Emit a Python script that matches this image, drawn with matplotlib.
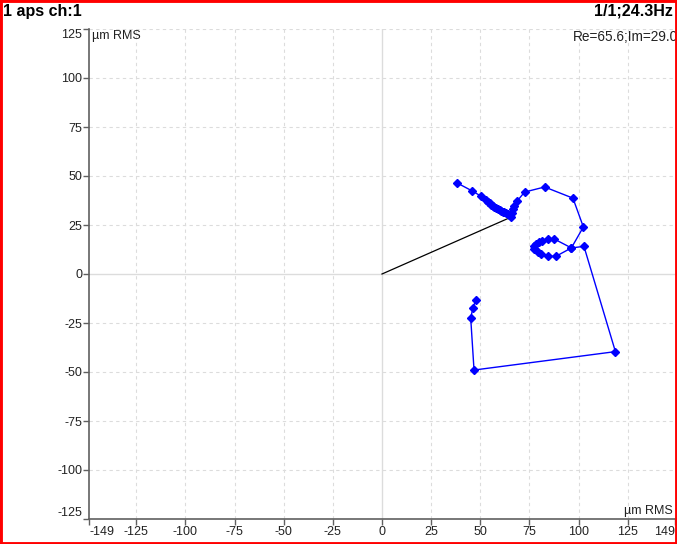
import matplotlib
matplotlib.use("Agg")
import matplotlib.pyplot as plt
from matplotlib.patches import Rectangle

plt.rcParams['font.family'] = ['Liberation Sans', 'DejaVu Sans']

# --- DATA (um RMS, real / imaginary) ---
re_vals = [37.9, 46.0, 50.2, 53.0, 54.0, 54.7, 55.5, 56.4, 57.2, 58.1, 59.0, 59.8,
           60.6, 61.4, 62.2, 63.1, 64.0, 64.8, 65.6, 66.0, 66.5, 67.3, 68.7, 72.5,
           82.7, 97.1, 102.4, 96.3, 87.5, 84.2, 81.6, 80.0, 78.3, 77.1, 77.4, 79.1,
           80.8, 84.2, 88.4, 96.3, 102.7, 118.7, 46.8, 45.1, 46.3, 47.6]
im_vals = [46.6, 42.3, 39.8, 37.8, 36.8, 36.1, 35.3, 34.7, 34.0, 33.5, 33.0, 32.5,
           32.1, 31.8, 31.5, 31.3, 30.6, 29.9, 29.0, 31.0, 33.0, 34.7, 37.2, 41.8,
           44.4, 38.7, 24.0, 13.3, 17.9, 17.9, 17.0, 16.2, 15.3, 14.1, 12.8, 11.1,
           10.1, 9.0, 9.0, 13.3, 14.1, -39.6, -49.0, -22.3, -17.2, -13.4]
cur_re, cur_im = 65.6, 29.0

x_ticks = [-149, -125, -100, -75, -50, -25, 0, 25, 50, 75, 100, 125, 149]
y_ticks = [-125, -100, -75, -50, -25, 0, 25, 50, 75, 100, 125]
grid_vals = [-125, -100, -75, -50, -25, 25, 50, 75, 100, 125]

# --- PLOT ---
fig = plt.figure(figsize=(6.77, 5.44), dpi=100)
ax = fig.add_axes([89/677, 1 - 519/544, 586/677, 490/544])

ax.set_xlim(-149, 149)
ax.set_ylim(-125, 125)

for v in grid_vals:
    ax.axvline(v, color='#dcdcdc', lw=0.8, ls=(0, (3, 3)), zorder=0)
    ax.axhline(v, color='#dcdcdc', lw=0.8, ls=(0, (3, 3)), zorder=0)
ax.axvline(0, color='#dcdcdc', lw=1.0, zorder=0)
ax.axhline(0, color='#dcdcdc', lw=1.0, zorder=0)

ax.plot([0, cur_re], [0, cur_im], color='black', lw=0.9, zorder=2)
ax.plot(re_vals, im_vals, color='#0000ff', lw=1.0, marker='D', ms=4.3,
        mec='#0000ff', mfc='#0000ff', zorder=3)

ax.set_xticks(x_ticks)
ax.set_yticks(y_ticks)
ax.set_xticklabels([str(t) for t in x_ticks])
ax.set_yticklabels([str(t) for t in y_ticks])
ax.tick_params(labelsize=9, colors='#222222', length=4, width=1, pad=1)
ax.tick_params(axis='both', color='#606060')

# end labels kept inside the axes span
xl = ax.get_xticklabels()
xl[0].set_ha('left')
xl[-1].set_ha('right')
yl = ax.get_yticklabels()
yl[0].set_va('bottom')
yl[-1].set_va('top')

for s in ['top', 'right']:
    ax.spines[s].set_visible(False)
for s in ['left', 'bottom']:
    ax.spines[s].set_color('#606060')
    ax.spines[s].set_linewidth(1.2)

ax.text(0.005, 0.998, 'µm RMS', transform=ax.transAxes, fontsize=9,
        color='#222222', ha='left', va='top')
ax.text(0.997, 0.005, 'µm RMS', transform=ax.transAxes, fontsize=9,
        color='#222222', ha='right', va='bottom')
ax.text(1.005, 0.998, f'Re={cur_re};Im={cur_im}', transform=ax.transAxes,
        fontsize=9.8, color='#222222', ha='right', va='top', clip_on=False)

fig.text(3/677, 1 - 4/544, '1 aps ch:1', fontsize=11.5, fontweight='bold',
         ha='left', va='top')
fig.text(673/677, 1 - 4/544, '1/1;24.3Hz', fontsize=11.5, fontweight='bold',
         ha='right', va='top')

fig.patches.append(Rectangle((0, 0), 1, 1, transform=fig.transFigure,
                             fill=False, edgecolor='red', lw=3.5))

fig.savefig('out.png', dpi=100)
